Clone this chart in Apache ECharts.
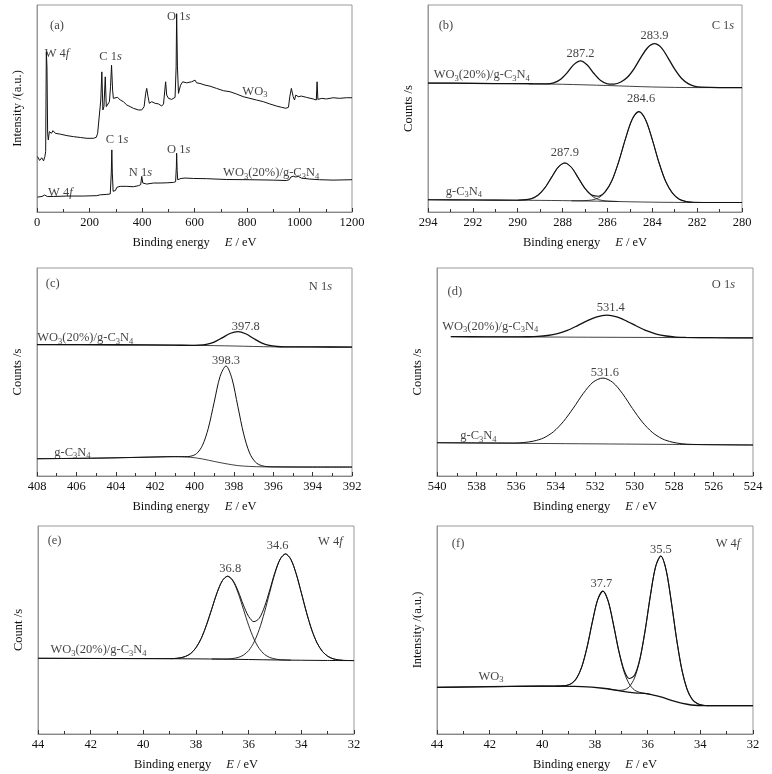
<!DOCTYPE html>
<html><head><meta charset="utf-8">
<script src="https://cdn.jsdelivr.net/npm/echarts@6/dist/echarts.min.js"></script>
<style>html,body{margin:0;padding:0;background:#fff}#c{width:772px;height:774px}</style>
</head><body><div id="c"></div>
<script>
// ---------- DATA (x = binding energy / eV, y = relative intensity 0-100) ----------
const surveyWO3 = [[2,26.8],[10,24.9],[18,26.2],[25,24.7],[30,26.8],[33,29.2],[35.5,77.4],[38,70.1],[40.5,38.0],[43,34.8],[47,38.8],[51,39.6],[55,38.0],[61,39.3],[70,38.0],[89,37.6],[114,36.9],[139,36.4],[165,36.0],[190,35.6],[215,35.6],[226,36.1],[231,38.0],[238,38.8],[243,54.1],[247,67.7],[251,49.3],[255,50.9],[260,65.3],[264,50.9],[269,51.7],[276,53.3],[280,60.5],[284,70.9],[288,58.9],[291,54.9],[298,54.4],[307,55.4],[317,54.1],[329,53.3],[342,51.7],[355,50.9],[367,50.1],[386,49.3],[399,49.3],[408,50.9],[414,57.3],[418,59.7],[423,55.7],[428,52.5],[437,53.3],[450,52.5],[463,52.2],[475,51.2],[482,52.2],[487,58.9],[490,62.9],[494,56.5],[501,54.9],[513,54.4],[526,55.4],[530,70.1],[532,95.8],[535,70.1],[539,57.3],[542,58.9],[547,61.3],[555,62.9],[570,62.4],[589,62.9],[602,63.7],[608,62.4],[621,62.1],[640,61.3],[659,60.8],[684,59.7],[710,58.6],[735,58.1],[760,57.0],[786,55.7],[811,54.9],[836,54.1],[862,53.3],[887,52.2],[912,51.2],[931,50.6],[948,50.1],[958,50.6],[963,55.7],[969,59.7],[976,55.7],[981,54.1],[986,56.5],[995,55.7],[1007,56.0],[1026,55.4],[1052,54.6],[1064,54.1],[1067,62.9],[1070,54.4],[1085,54.9],[1102,54.6],[1128,55.2],[1153,54.9],[1178,55.2],[1200,55.2]];
const surveyComposite = [[2,7.2],[19,7.5],[29,8.2],[34,8.8],[39,7.5],[63,7.5],[114,7.7],[177,7.7],[228,7.9],[241,8.3],[266,8.5],[279,8.7],[283,18.8],[285,30.0],[287,18.8],[290,10.0],[294,9.1],[299,10.4],[304,11.9],[317,12.4],[342,12.4],[367,12.2],[386,12.7],[395,13.2],[399,17.2],[403,14.0],[418,13.5],[444,14.0],[469,14.0],[494,14.1],[520,14.3],[528,14.6],[531,22],[532,28.4],[534,20],[536,15.6],[542,14.8],[549,16.2],[564,16.4],[596,16.2],[646,16.1],[722,15.7],[811,15.6],[900,15.4],[950,15.2],[961,15.6],[967,16.9],[976,17.3],[986,16.9],[995,17.2],[1007,16.4],[1039,15.9],[1077,15.6],[1128,15.4],[1200,15.6]];

const c1sCompositeEnv = [[294,62.3],[292,62.15],[290.2,62.0],[289.9,62.0],[289.6,62.0],[289.3,61.9],[289.0,61.9],[288.7,61.9],[288.4,62.4],[288.1,64.0],[287.8,67.2],[287.5,71.2],[287.2,73.0],[286.9,71.0],[286.6,66.9],[286.3,63.5],[286.0,61.9],[285.7,61.8],[285.4,62.8],[285.1,65.2],[284.8,69.4],[284.5,74.8],[284.2,79.5],[283.9,81.3],[283.6,79.4],[283.3,74.5],[283.0,69.0],[282.7,64.6],[282.4,62.0],[282.1,60.7],[281.8,60.3],[281.0,60.1],[280,60.1]];
const c1sCompositeBg = [[294,62.3],[290,62.0],[288,61.7],[286,61.1],[284,60.4],[282,60.1],[280,60.1]];
const c1sCNEnv = [[294,5.9],[292,5.8],[290.0,5.7],[289.7,5.9],[289.4,6.4],[289.1,8.1],[288.8,11.5],[288.5,16.6],[288.2,21.6],[287.9,23.7],[287.6,21.5],[287.3,16.5],[287.0,11.4],[286.7,8.2],[286.4,7.6],[286.1,9.8],[285.8,15.2],[285.5,24.2],[285.2,35.2],[284.9,44.7],[284.6,48.5],[284.3,44.6],[284.0,35.0],[283.7,23.8],[283.4,14.7],[283.1,9.1],[282.8,6.2],[282.5,5.1],[282.2,4.7],[281,4.6],[280,4.6]];
const c1sCNPeakA = [[290.0,5.7],[289.7,5.9],[289.4,6.4],[289.1,8.1],[288.8,11.5],[288.5,16.6],[288.2,21.6],[287.9,23.7],[287.6,21.5],[287.3,16.4],[287.0,11.3],[286.7,7.8],[286.4,6.0],[286.1,5.4],[285.8,5.2],[285.5,5.05]];
const c1sCNPeakB = [[287.6,5.4],[287.3,5.4],[287.0,5.5],[286.7,5.8],[286.4,6.8],[286.1,9.6],[285.8,15.1],[285.5,24.2],[285.2,35.2],[284.9,44.7],[284.6,48.5],[284.3,44.6],[284.0,35.0],[283.7,23.8],[283.4,14.7],[283.1,9.1],[282.8,6.2],[282.5,5.1],[282.2,4.7]];
const c1sCNBg = [[294,5.9],[290,5.7],[288,5.5],[286,5.15],[284,4.75],[282,4.6],[280,4.6]];

const n1sCompositeEnv = [[408,63.2],[404,63.1],[401,62.9],[400.2,62.8],[399.8,62.9],[399.4,63.3],[399.0,64.4],[398.6,66.4],[398.2,68.5],[397.8,69.45],[397.4,68.4],[397.0,66.1],[396.6,64.0],[396.2,62.75],[395.8,62.25],[395.4,62.1],[394,62.05],[392,62.0]];
const n1sCompositeBg = [[408,63.2],[400,62.8],[398,62.5],[396,62.1],[392,62.0]];
const n1sCNEnv = [[408,8.3],[404.8,8.6],[402.3,9.1],[401.1,9.3],[400.8,9.3],[400.5,9.3],[400.2,9.5],[399.9,10.7],[399.6,14.6],[399.3,22.9],[399.0,35.5],[398.7,47.9],[398.4,52.9],[398.1,46.9],[397.8,33.5],[397.5,20.1],[397.2,11.0],[396.9,6.6],[396.6,5.0],[396.3,4.5],[396.0,4.4],[394,4.3],[392,4.3]];
const n1sCNBg = [[408,8.3],[405,8.6],[402,9.1],[401,9.3],[400.2,9.0],[399.6,8.2],[399.0,7.0],[398.4,5.9],[397.8,5.0],[397.2,4.6],[396.5,4.4],[394,4.3],[392,4.3]];

const o1sCompositeEnv = [[539.3,67.0],[537.5,66.93],[535.9,66.9],[535.4,66.94],[534.9,67.1],[534.4,67.55],[533.9,68.45],[533.4,70.0],[532.9,72.2],[532.4,74.6],[531.9,76.56],[531.4,77.3],[530.9,76.5],[530.4,74.5],[529.9,72.1],[529.4,69.85],[528.9,68.25],[528.4,67.3],[527.9,66.8],[527.4,66.6],[526,66.48],[524,66.4]];
const o1sCompositeBg = [[539.3,67.0],[524,66.4]];
const o1sCNEnv = [[540,16.0],[538,15.9],[536.1,15.85],[535.6,16.1],[535.1,16.8],[534.6,18.3],[534.1,21.3],[533.6,26.2],[533.1,32.6],[532.6,39.6],[532.1,45.1],[531.6,47.1],[531.1,45.0],[530.6,39.5],[530.1,32.4],[529.6,25.9],[529.1,21.0],[528.6,17.9],[528.1,16.3],[527.6,15.5],[527.1,15.2],[526,15.05],[524,14.9]];
const o1sCNBg = [[540,16.0],[524,14.9]];

const w4fCompositeEnv = [[44,36.4],[42,36.3],[40,36.25],[39.0,36.25],[38.8,36.33],[38.6,36.6],[38.4,37.3],[38.2,38.7],[38.0,41.5],[37.8,46.0],[37.6,52.5],[37.4,60.2],[37.2,67.95],[37.0,73.7],[36.8,75.9],[36.6,73.9],[36.4,68.7],[36.2,62.0],[36.0,56.5],[35.8,54.0],[35.6,55.6],[35.4,61.1],[35.2,69.2],[35.0,77.8],[34.8,84.2],[34.6,86.6],[34.4,84.0],[34.2,77.2],[34.0,67.9],[33.8,58.25],[33.6,49.9],[33.4,43.7],[33.2,39.7],[33.0,37.4],[32.8,36.2],[32.6,35.65],[32.4,35.4],[32,35.3]];
const w4fCompositePeak1 = [[39.0,36.25],[38.8,36.3],[38.6,36.6],[38.4,37.3],[38.2,38.7],[38.0,41.5],[37.8,46.0],[37.6,52.5],[37.4,60.2],[37.2,67.9],[37.0,73.7],[36.8,75.8],[36.6,73.6],[36.4,67.8],[36.2,60.0],[36.0,52.2],[35.8,45.7],[35.6,41.1],[35.4,38.3],[35.2,36.8],[35.0,36.1],[34.8,35.7],[34.6,35.6],[34.4,35.5]];
const w4fCompositePeak2 = [[37.4,36.06],[37.2,36.05],[37.0,36.05],[36.8,36.1],[36.6,36.3],[36.4,36.8],[36.2,37.9],[36.0,40.1],[35.8,44.1],[35.6,50.2],[35.4,58.5],[35.2,68.1],[35.0,77.3],[34.8,84.1],[34.6,86.55],[34.4,84.0],[34.2,77.2],[34.0,67.9],[33.8,58.25],[33.6,49.9],[33.4,43.7],[33.2,39.7],[33.0,37.4],[32.8,36.2],[32.6,35.65],[32.4,35.4]];
const w4fCompositeBg = [[44,36.4],[39,36.2],[37,36.0],[35,35.6],[33,35.35],[32,35.3]];

const w4fWO3Env = [[44,22.4],[42,22.7],[40,23.0],[39.5,23.0],[39.3,23.1],[39.1,23.3],[38.9,24.2],[38.7,26.8],[38.5,32.4],[38.3,41.8],[38.1,53.9],[37.9,64.5],[37.7,68.7],[37.5,63.9],[37.3,52.75],[37.1,40.2],[36.9,30.8],[36.7,26.7],[36.5,28.2],[36.3,35.9],[36.1,49.5],[35.9,66.3],[35.7,80.4],[35.5,85.6],[35.3,78.9],[35.1,63.4],[34.9,45.5],[34.7,30.8],[34.5,21.4],[34.3,16.5],[34.1,14.5],[33.9,13.8],[33.7,13.65],[33,13.6],[32,13.6]];
const w4fWO3Peak1 = [[39.5,23.0],[39.3,23.1],[39.1,23.3],[38.9,24.2],[38.7,26.8],[38.5,32.4],[38.3,41.8],[38.1,53.9],[37.9,64.5],[37.7,68.7],[37.5,63.9],[37.3,52.7],[37.1,40.0],[36.9,30.0],[36.7,24.05],[36.5,21.1],[36.3,20.0],[36.1,19.5],[35.9,19.1]];
const w4fWO3Peak2 = [[37.5,21.6],[37.3,21.25],[37.1,21.0],[36.9,21.2],[36.7,22.7],[36.5,26.9],[36.3,35.5],[36.1,49.4],[35.9,66.3],[35.7,80.4],[35.5,85.6],[35.3,78.9],[35.1,63.4],[34.9,45.5],[34.7,30.8],[34.5,21.4],[34.3,16.5],[34.1,14.5],[33.9,13.8],[33.7,13.65]];
const w4fWO3Bg = [[44,22.4],[40,23.0],[38.5,22.8],[37.7,22.0],[37,20.6],[36.5,19.8],[36,19.25],[35.5,17.8],[35,15.8],[34.5,14.3],[34,13.6],[32,13.6]];

// axis ranges and titles
const xRanges = [[0,1200,200],[280,294,2],[392,408,2],[524,540,2],[32,44,2],[32,44,2]];
const yTitles = ['Intensity /(a.u.)','Counts /s','Counts /s','Counts /s','Count /s','Intensity /(a.u.)'];

// text annotations (panel, x, y, text)
const COMP = '{n|WO}{s|3}{n|(20%)/g-C}{s|3}{n|N}{s|4}';
const CN = '{n|g-C}{s|3}{n|N}{s|4}';
const annotations = [
  [0,76,90.2,'{n|(a)}'],[0,76,76.6,'{n|W 4}{i|f}'],[0,280,75.0,'{n|C 1}{i|s}'],[0,540,94.2,'{n|O 1}{i|s}'],[0,830,58.1,'{n|WO}{s|3}'],
  [0,305,34.8,'{n|C 1}{i|s}'],[0,394,18.8,'{n|N 1}{i|s}'],[0,540,30.0,'{n|O 1}{i|s}'],[0,892,18.8,COMP],[0,89,9.5,'{n|W 4}{i|f}'],
  [1,293.2,90.2,'{n|(b)}'],[1,280.85,90.2,'{n|C 1}{i|s}'],[1,287.2,76.6,'{n|287.2}'],[1,283.9,85.4,'{n|283.9}'],[1,291.6,66.1,COMP],
  [1,284.5,54.9,'{n|284.6}'],[1,287.9,28.4,'{n|287.9}'],[1,292.4,10.0,CN],
  [2,407.2,92.3,'{n|(c)}'],[2,393.6,91.2,'{n|N 1}{i|s}'],[2,397.4,72,'{n|397.8}'],[2,405.55,66.4,COMP],[2,398.4,55.2,'{n|398.3}'],[2,406.2,11.2,CN],
  [3,539.1,88.8,'{n|(d)}'],[3,525.5,92,'{n|O 1}{i|s}'],[3,531.2,80.8,'{n|531.4}'],[3,537.3,72,COMP],[3,531.5,49.6,'{n|531.6}'],[3,537.9,19.2,CN],
  [4,43.37,93,'{n|(e)}'],[4,32.9,92.5,'{n|W 4}{i|f}'],[4,36.7,79.6,'{n|36.8}'],[4,34.9,90.4,'{n|34.6}'],[4,41.7,40.4,COMP],
  [5,43.2,91.7,'{n|(f)}'],[5,32.95,91.7,'{n|W 4}{i|f}'],[5,37.76,72.4,'{n|37.7}'],[5,35.5,88.8,'{n|35.5}'],[5,41.95,27.6,'{n|WO}{s|3}']
];

// ---------- CHART ----------
const FONT = '"Liberation Serif", "Times New Roman", serif';
const INK = '#111';
const rich = {
  n: {fontFamily: FONT, fontSize: 12.5, color: INK, lineHeight: 16},
  i: {fontFamily: FONT, fontSize: 12.5, color: INK, fontStyle: 'italic', lineHeight: 16},
  s: {fontFamily: FONT, fontSize: 8.5, color: INK, verticalAlign: 'bottom'}
};
const gridBoxes = [
  {left:37, top:5, width:315, height:207},
  {left:428, top:5, width:314, height:207},
  {left:37, top:268, width:315, height:208},
  {left:437, top:268, width:316, height:208},
  {left:38, top:526, width:316, height:208},
  {left:437, top:526, width:316, height:208}
];
const grid = gridBoxes.map(g => Object.assign({show:true, borderColor:'#999', borderWidth:1, containLabel:false}, g));
const xAxis = xRanges.map((r,i) => ({
  type:'value', gridIndex:i, min:r[0], max:r[1], interval:r[2], inverse: i>0,
  axisLine:{show:true, onZero:false, lineStyle:{color:'#888', width:1}},
  axisTick:{show:true, inside:true, length:4, lineStyle:{color:'#333'}},
  minorTick:{show:true, splitNumber:2, length:3, lineStyle:{color:'#333'}},
  axisLabel:{color:INK, fontFamily:FONT, fontSize:12.5, margin:4, formatter: v => String(v)},
  splitLine:{show:false},
  name:'{n|Binding energy}{e|E}{n| / eV}', nameLocation:'middle', nameGap:23,
  nameTextStyle:{rich:{n:rich.n, e:Object.assign({}, rich.i, {padding:[0,0,0,15]})}}
}));
const yAxis = yTitles.map((t,i) => ({
  type:'value', gridIndex:i, min:0, max:100,
  axisLine:{show:true, lineStyle:{color:'#999'}}, axisTick:{show:false}, axisLabel:{show:false}, splitLine:{show:false},
  name:t, nameLocation:'middle', nameGap:13,
  nameTextStyle:{fontFamily:FONT, fontSize:12.5, color:INK}
}));

function line(data, gi, width, smooth) {
  return {type:'line', xAxisIndex:gi, yAxisIndex:gi, data, symbol:'none', showSymbol:false,
    smooth: smooth ? 0.3 : false,
    lineStyle:{color:INK, width}, silent:true, animation:false, z:3};
}
const series = [
  line(surveyWO3,0,1,false), line(surveyComposite,0,1,false),
  line(c1sCompositeBg,1,0.8,true), line(c1sCompositeEnv,1,1.3,true),
  line(c1sCNBg,1,0.8,true), line(c1sCNPeakA,1,0.8,true), line(c1sCNPeakB,1,0.8,true), line(c1sCNEnv,1,1.1,true),
  line(n1sCompositeBg,2,0.8,true), line(n1sCompositeEnv,2,1.3,true),
  line(n1sCNBg,2,0.8,true), line(n1sCNEnv,2,1.0,true),
  line(o1sCompositeBg,3,0.8,true), line(o1sCompositeEnv,3,1.3,true),
  line(o1sCNBg,3,0.8,true), line(o1sCNEnv,3,1.0,true),
  line(w4fCompositeBg,4,1.0,true), line(w4fCompositePeak1,4,0.9,true), line(w4fCompositePeak2,4,0.9,true), line(w4fCompositeEnv,4,1.0,true),
  line(w4fWO3Bg,5,1.3,true), line(w4fWO3Peak1,5,0.9,true), line(w4fWO3Peak2,5,0.9,true), line(w4fWO3Env,5,1.1,true)
];
for (let gi = 0; gi < 6; gi++) {
  series.push({
    type:'scatter', xAxisIndex:gi, yAxisIndex:gi, symbolSize:0, silent:true, animation:false, z:5,
    data: annotations.filter(a => a[0] === gi).map(a => ({
      value:[a[1], a[2]],
      label:{show:true, position:'inside', rich, formatter: () => a[3]}
    }))
  });
}
const chart = echarts.init(document.getElementById('c'), null, {renderer:'canvas'});
chart.setOption({backgroundColor:'#fff', animation:false, grid, xAxis, yAxis, series});
</script></body></html>
